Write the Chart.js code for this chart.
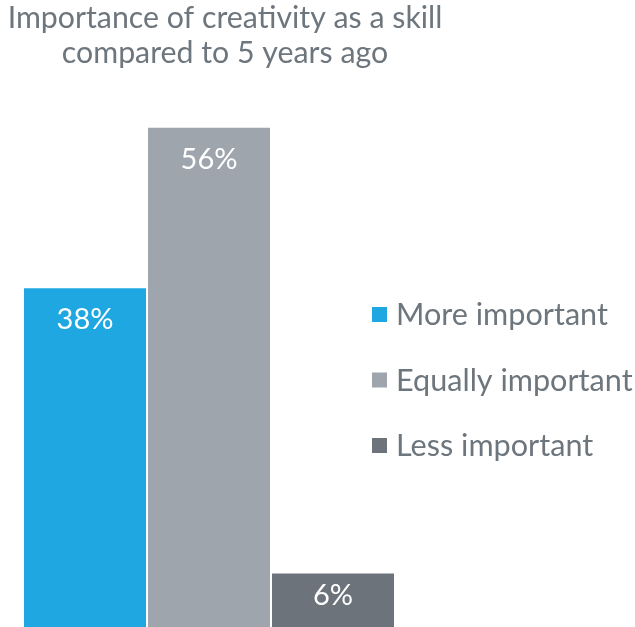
<!DOCTYPE html>
<html>
<head>
<meta charset="utf-8">
<script src="https://cdn.jsdelivr.net/npm/chart.js@4"></script>
<style>
  html, body { margin: 0; padding: 0; background: #fff; }
  #wrap { width: 635px; height: 627px; position: relative; }
</style>
</head>
<body>
<div id="wrap"><canvas id="chart"></canvas></div>
<script>
const titleLines = ['Importance of creativity as a skill', 'compared to 5 years ago'];
const categories = ['More important', 'Equally important', 'Less important'];
const shares = [38, 56, 6];
const barColors = ['#1fa7e1', '#9ea5ad', '#6c737b'];

const textColor = '#6d757d';
const fontFamily = 'Lato, "Open Sans", sans-serif';

// title, legend and value labels are painted straight onto the canvas
const decorations = {
    id: 'decorations',
    afterDatasetsDraw(chart) {
        const ctx = chart.ctx;
        const meta = chart.getDatasetMeta(0);
        const yScale = chart.scales.y;
        const base = yScale.getPixelForValue(0);

        ctx.save();

        // value labels inside the bars
        ctx.font = '29px ' + fontFamily;
        ctx.fillStyle = '#ffffff';
        ctx.textAlign = 'center';
        ctx.textBaseline = 'alphabetic';
        meta.data.forEach((bar, i) => {
            const y = Math.min(bar.y + 41, base - 22);
            ctx.fillText(shares[i] + '%', bar.x, y);
        });

        // title
        ctx.font = '30.3px ' + fontFamily;
        ctx.fillStyle = textColor;
        ctx.fillText(titleLines[0], 225, 28);
        ctx.fillText(titleLines[1], 225, 63);

        // legend
        ctx.font = '30.6px ' + fontFamily;
        ctx.textAlign = 'left';
        categories.forEach((name, i) => {
            const baseline = 325 + i * 65.5;
            ctx.fillStyle = barColors[i];
            ctx.fillRect(372, baseline - 18, 15, 15);
            ctx.fillStyle = textColor;
            ctx.fillText(name, 396, baseline);
        });

        ctx.restore();
    }
};

new Chart(document.getElementById('chart'), {
    type: 'bar',
    data: {
        labels: categories,
        datasets: [{
            data: shares,
            backgroundColor: barColors,
            borderWidth: 0,
            categoryPercentage: 1,
            barPercentage: 0.984
        }]
    },
    options: {
        responsive: true,
        maintainAspectRatio: false,
        animation: false,
        layout: {
            padding: { left: 23, right: 240, top: 92, bottom: 0 }
        },
        scales: {
            x: { display: false },
            y: { display: false, min: 0, max: 60 }
        },
        plugins: {
            legend: { display: false },
            tooltip: { enabled: false }
        }
    },
    plugins: [decorations]
});
</script>
</body>
</html>
